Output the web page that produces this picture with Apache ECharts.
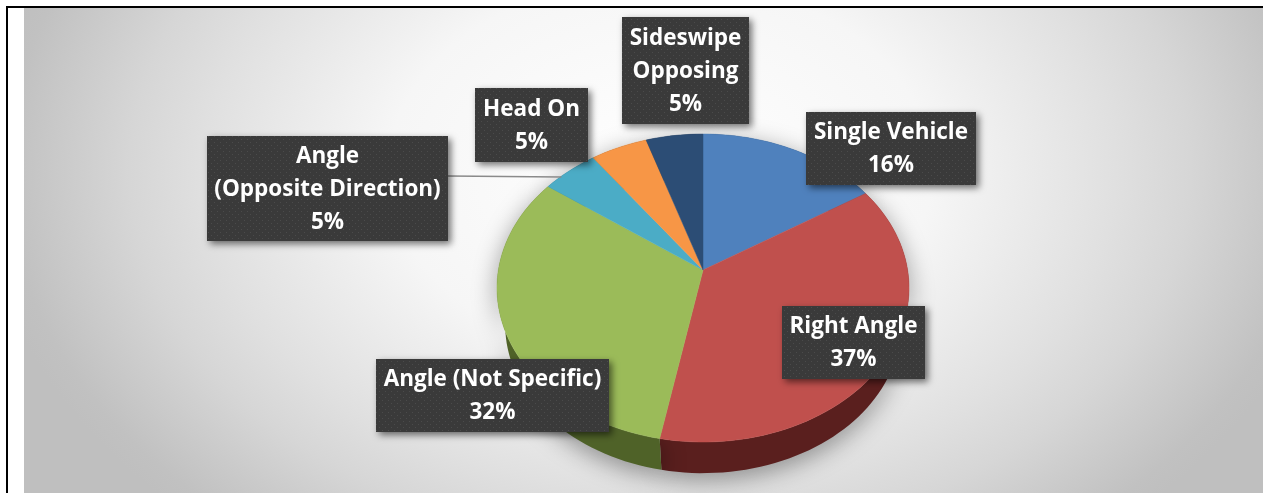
<!DOCTYPE html>
<html><head><meta charset="utf-8">
<style>
html,body{margin:0;padding:0;width:1263px;height:493px;background:#fff;overflow:hidden}
#panel{position:absolute;left:24px;top:8px;width:1239px;height:485px;
background:radial-gradient(ellipse 680px 480px at 636px 162px,#ffffff 0%,#f6f6f6 40%,#e0e0e0 67%,#d6d6d6 78%,#c1c1c1 96%,#bfbfbf 100%)}
#bl{position:absolute;left:6px;top:6px;width:2px;height:487px;background:#000}
#bt{position:absolute;left:6px;top:6px;width:1257px;height:2px;background:#000}
#c{position:absolute;left:0;top:0;width:1263px;height:493px}
</style></head><body>
<div id="panel"></div><div id="bl"></div><div id="bt"></div><div id="c"></div>
<script src="https://cdn.jsdelivr.net/npm/echarts@6/dist/echarts.min.js"></script>
<script>
const categories=['Single Vehicle','Right Angle','Angle (Not Specific)','Angle\n(Opposite Direction)','Head On','Sideswipe\nOpposing'];
const values=[16,37,32,5,5,5];
const faceColors=['#4f81bd','#c0504d','#9bbb59','#4bacc6','#f79646','#2c4d75'];
const wallColors=['#27405e','#5a1f1e','#4f6228','#25566a','#7b4b23','#16263a'];
// label boxes: left, top, width, height
const boxes=[[806,112,170,73],[782,306,143,73],[376,359,233,73],[207,136,241,105],[475,88,113,74],[622,17,127,107]];

const apex=[703,270], A=204.6, B=151.9, K=0.117;
const total=values.reduce((a,b)=>a+b,0);
function project(t,sc,dy){
  const u=Math.sin(t), v=-Math.cos(t), d=1-K*v;
  return [apex[0]+sc*A*u/d, apex[1]+dy+sc*B*v/d];
}
function arc(start,end,sc,dy){
  const n=Math.max(4,Math.ceil((end-start)/total*180)), pts=[];
  for(let i=0;i<=n;i++){
    const p=start+(end-start)*i/n;
    pts.push(project(p/total*2*Math.PI,sc,dy));
  }
  return pts;
}
function range(i){
  let s=0;for(let j=0;j<i;j++)s+=values[j];
  return [s,s+values[i]];
}
const pc=document.createElement('canvas');pc.width=pc.height=6;
const g=pc.getContext('2d');g.fillStyle='#3a3a3a';g.fillRect(0,0,6,6);
g.fillStyle='#4b4b4b';g.fillRect(1,1,1,1);g.fillRect(4,4,1,1);

const data=categories.map((n,i)=>({name:n,value:values[i]}));
const chart=echarts.init(document.getElementById('c'),null,{renderer:'canvas'});
chart.setOption({
  animation:false,
  backgroundColor:'transparent',
  tooltip:{show:false},
  series:[
    {type:'custom',coordinateSystem:'none',silent:true,data,z:1,
     renderItem(params){
       const [s,e]=range(params.dataIndex);
       const top=arc(s,e,1,0), bot=arc(s,e,0.96,38).reverse();
       return {type:'polygon',shape:{points:top.concat(bot)},
         style:{fill:wallColors[params.dataIndex],shadowBlur:24,shadowColor:'rgba(0,0,0,0.4)',shadowOffsetY:6}};
     }},
    {type:'custom',coordinateSystem:'none',silent:true,data,z:2,
     renderItem(params){
       const [s,e]=range(params.dataIndex);
       return {type:'polygon',shape:{points:[apex].concat(arc(s,e,1,0))},
         style:{fill:faceColors[params.dataIndex],stroke:faceColors[params.dataIndex],lineWidth:0.5}};
     }},
    {type:'custom',coordinateSystem:'none',silent:true,data,z:3,
     renderItem(params,api){
       const i=params.dataIndex, b=boxes[i];
       const children=[];
       if(i===3){
         const [s,e]=range(3);
         const p=project((s+e)/2/total*2*Math.PI,1,0);
         children.push({type:'line',shape:{x1:b[0]+b[2],y1:176,x2:p[0]-8,y2:177},
           style:{stroke:'#8a8a8a',lineWidth:1.5}});
       }
       children.push({type:'rect',shape:{x:b[0],y:b[1],width:b[2],height:b[3]},
         style:{fill:{image:pc,repeat:'repeat'},shadowBlur:7,shadowOffsetX:3,shadowOffsetY:3,shadowColor:'rgba(0,0,0,0.55)'}});
       children.push({type:'text',x:b[0]+b[2]/2,y:b[1]+b[3]/2+1,
         style:{text:categories[i]+'\n'+api.value(0)+'%',fill:'#fff',align:'center',verticalAlign:'middle',
           font:'bold 22.5px "Open Sans"',lineHeight:33}});
       return {type:'group',children};
     }}
  ]
});
</script></body></html>
